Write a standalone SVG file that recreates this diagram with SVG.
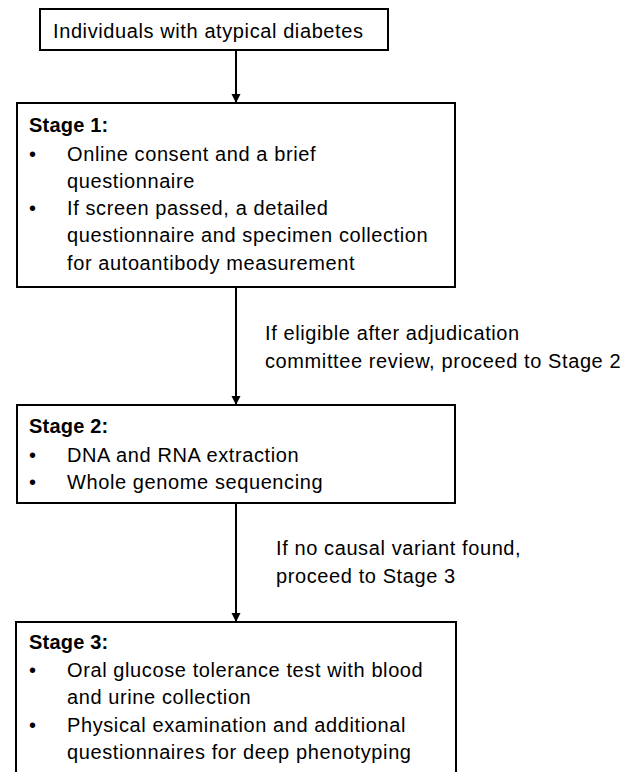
<svg xmlns="http://www.w3.org/2000/svg" width="635" height="772" viewBox="0 0 635 772">
<style>
.box{fill:#fff;stroke:#000;stroke-width:2}
text{font-family:"Liberation Sans",Arial,sans-serif;font-size:20px;letter-spacing:0.6px;fill:#000}
.b{font-weight:bold;letter-spacing:0.2px}
.conn{stroke:#000;stroke-width:2;fill:none}
</style>
<defs>
<marker id="ah" markerWidth="10" markerHeight="10" refX="8" refY="5" orient="auto" markerUnits="userSpaceOnUse">
<path d="M0,0.5 L9,5 L0,9.5 Z" fill="#000"/>
</marker>
</defs>
<rect width="635" height="772" fill="#fff"/>
<g id="connectors">
<line class="conn" x1="236" y1="50" x2="236" y2="102" marker-end="url(#ah)"/>
<line class="conn" x1="236" y1="287" x2="236" y2="404" marker-end="url(#ah)"/>
<line class="conn" x1="236" y1="503" x2="236" y2="621" marker-end="url(#ah)"/>
<text x="265" y="340">If eligible after adjudication</text>
<text x="265" y="368">committee review, proceed to Stage 2</text>
<text x="276" y="555">If no causal variant found,</text>
<text x="276" y="583">proceed to Stage 3</text>
</g>
<g id="start">
<rect class="box" x="40" y="9" width="348" height="41"/>
<text x="53" y="38">Individuals with atypical diabetes</text>
</g>
<g id="stage1">
<rect class="box" x="17" y="103" width="438" height="184"/>
<text class="b" x="29" y="132">Stage 1:</text>
<text x="29" y="161">•</text><text x="67" y="161">Online consent and a brief</text>
<text x="67" y="188">questionnaire</text>
<text x="29" y="215">•</text><text x="67" y="215">If screen passed, a detailed</text>
<text x="67" y="242">questionnaire and specimen collection</text>
<text x="67" y="270">for autoantibody measurement</text>
</g>
<g id="stage2">
<rect class="box" x="17" y="405" width="438" height="98"/>
<text class="b" x="29" y="433">Stage 2:</text>
<text x="29" y="462">•</text><text x="67" y="462">DNA and RNA extraction</text>
<text x="29" y="489">•</text><text x="67" y="489">Whole genome sequencing</text>
</g>
<g id="stage3">
<rect class="box" x="16" y="622" width="440" height="200"/>
<text class="b" x="29" y="649">Stage 3:</text>
<text x="29" y="677">•</text><text x="67" y="677">Oral glucose tolerance test with blood</text>
<text x="67" y="704">and urine collection</text>
<text x="29" y="732">•</text><text x="67" y="732">Physical examination and additional</text>
<text x="67" y="759">questionnaires for deep phenotyping</text>
</g>
</svg>
